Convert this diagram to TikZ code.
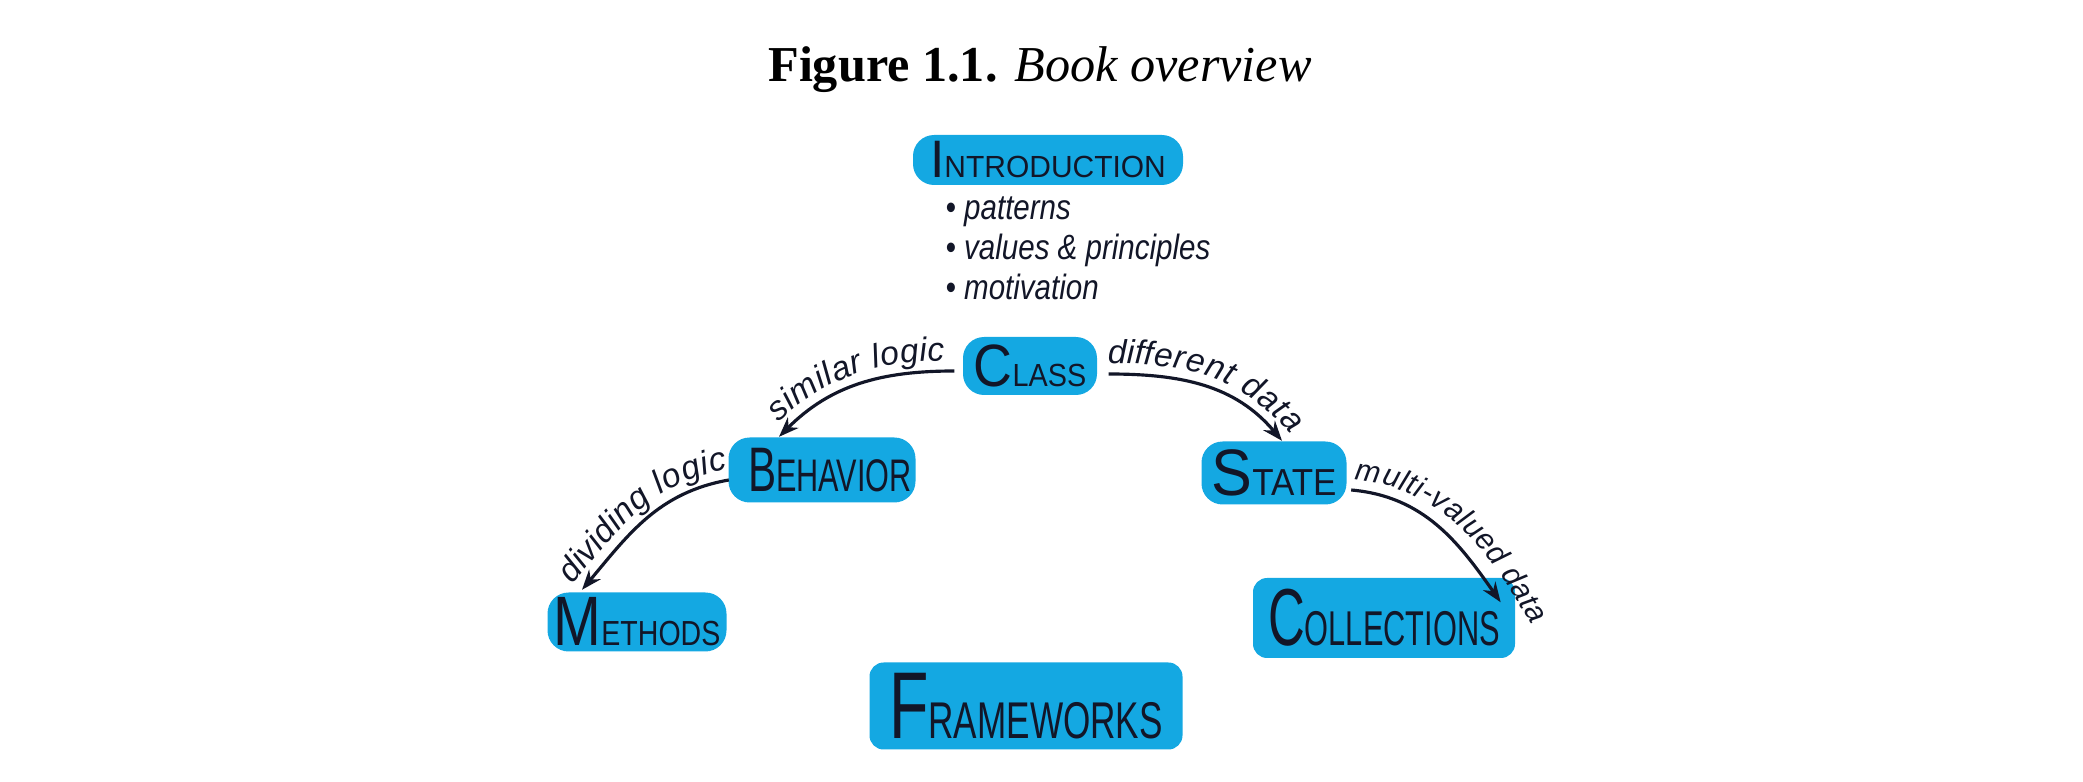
\documentclass[tikz,border=0pt]{standalone}
\usepackage{fontspec}
\usepackage{graphicx}
\usetikzlibrary{arrows.meta,decorations.text}
\setmainfont{Liberation Serif}
\newfontfamily\hand{Liberation Sans}
\definecolor{paintblue}{RGB}{20,168,226}
\definecolor{ink}{RGB}{18,22,40}
\newcommand{\hw}[5]{\scalebox{#1}[1]{\fontsize{#2}{#2}\selectfont #4\fontsize{#3}{#3}\selectfont #5}}
\begin{document}
\begin{tikzpicture}[
  paint/.style={fill=paintblue, rounded corners=6pt, inner sep=0pt, text=ink, font=\hand},
  conn/.style={draw=ink, line width=0.9pt, -{Stealth[length=0.2cm,width=0.15cm]}},
  along/.style 2 args={decorate, decoration={text along path, text align=center, raise=3pt,
     text color=ink, text format delimiters={|}{|},
     text={|\hand\itshape\fontsize{#2}{#2}\selectfont|#1}}}
]
\useasboundingbox (0,0) rectangle (20.83,7.82);

\node[anchor=base] (title) at (10.40,7.00) {\fontsize{14.3pt}{16pt}\selectfont\textbf{Figure 1.1.} \textit{Book overview}};

\node[paint, minimum width=2.70cm, minimum height=0.50cm] (intro) at (10.48,6.22) {\hw{0.98}{15pt}{8.7pt}{I}{NTRODUCTION}};
\node[anchor=north west, inner sep=0pt, align=left, text=ink, font=\hand\itshape\fontsize{10pt}{11.4pt}\selectfont] (bul) at (9.45,5.86)
  {\scalebox{0.84}[1]{• patterns}\\ \scalebox{0.84}[1]{• values \& principles}\\ \scalebox{0.84}[1]{• motivation}};

\node[paint, minimum width=1.34cm, minimum height=0.58cm] (cls) at (10.30,4.16) {\hw{0.9}{17pt}{9.1pt}{C}{LASS}};
\node[paint, minimum width=1.87cm, minimum height=0.65cm] (beh) at (8.22,3.12) {\hspace*{0.16cm}\hw{0.67}{17.9pt}{13pt}{B}{EHAVIOR}};
\node[paint, minimum width=1.45cm, minimum height=0.63cm] (sta) at (12.74,3.09) {\hw{0.93}{18.7pt}{10.7pt}{S}{TATE}};
\node[paint, minimum width=1.79cm, minimum height=0.59cm] (met) at (6.37,1.60) {\hw{0.82}{19.9pt}{9.9pt}{M}{ETHODS}};
\node[paint, rounded corners=4pt, minimum width=2.62cm, minimum height=0.80cm] (col) at (13.84,1.64) {\hw{0.63}{23pt}{13.9pt}{C}{OLLECTIONS}};
\node[paint, rounded corners=4pt, minimum width=3.13cm, minimum height=0.87cm] (fra) at (10.26,0.76) {\hw{0.68}{27pt}{14.7pt}{F}{RAMEWORKS}};

% connectors
\draw[conn] ([xshift=-0.08cm,yshift=-0.05cm]cls.west) to[out=180,in=45] ([xshift=-0.43cm]beh.north);
\path[along={similar logic}{9.5pt}] ([xshift=-0.43cm]beh.north) to[out=45,in=180] ([xshift=-0.08cm,yshift=-0.05cm]cls.west);

\draw[conn] ([xshift=0.01cm,yshift=-0.10cm]beh.west) to[out=190,in=50] ([xshift=-0.55cm,yshift=0.02cm]met.north);
\path[along={dividing logic}{9.5pt}] ([xshift=-0.55cm,yshift=0.02cm]met.north) to[out=50,in=190] ([xshift=0.01cm,yshift=-0.10cm]beh.west);

\draw[conn] ([xshift=0.11cm,yshift=-0.08cm]cls.east) to[out=0,in=130] ([xshift=0.08cm]sta.north);
\path[along={different data}{9.5pt}] ([xshift=0.11cm,yshift=-0.08cm]cls.east) to[out=0,in=130] ([xshift=0.08cm]sta.north);

\draw[conn] ([xshift=0.04cm,yshift=-0.17cm]sta.east) to[out=-5,in=125] ([xshift=-0.15cm,yshift=-0.25cm]col.north east);
\path[along={multi-valued data}{8.6pt}] ([xshift=0.04cm,yshift=-0.17cm]sta.east) to[out=-5,in=120] ([xshift=0.08cm,yshift=-0.55cm]col.north east);
\end{tikzpicture}
\end{document}
